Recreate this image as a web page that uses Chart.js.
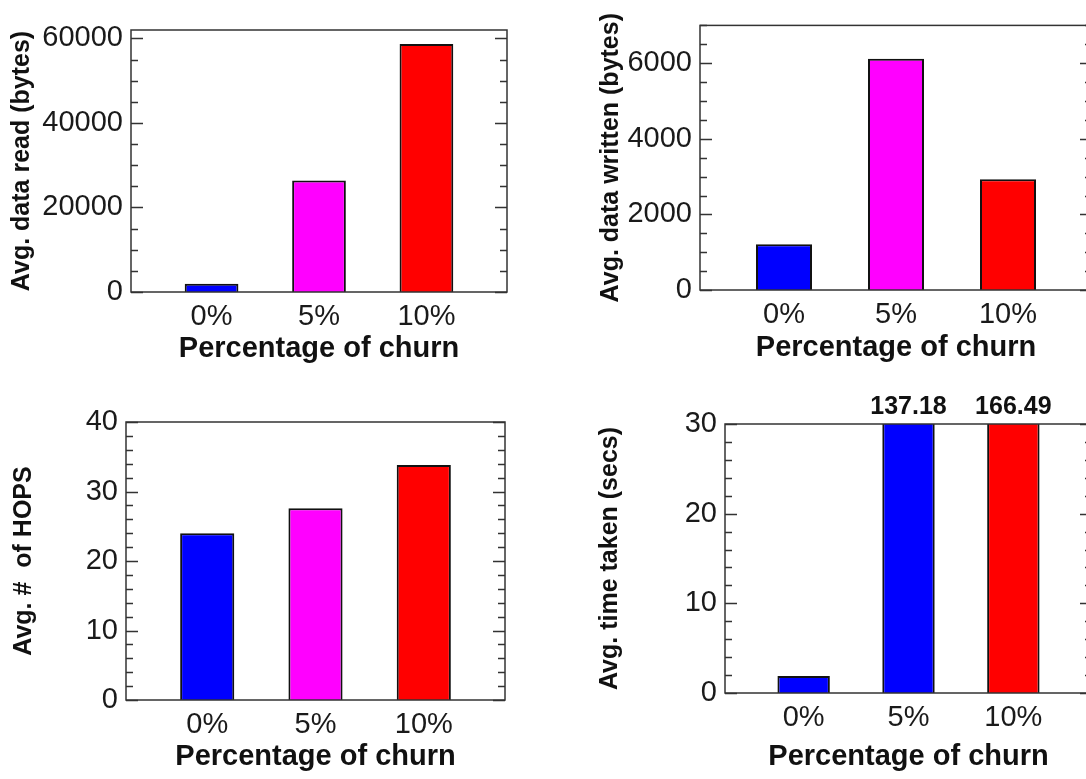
<!DOCTYPE html>
<html>
<head>
<meta charset="utf-8">
<script src="https://cdn.jsdelivr.net/npm/chart.js@4.4.1/dist/chart.umd.min.js"></script>
<style>
    html, body { margin: 0; padding: 0; background: #fff; overflow: hidden; width: 1086px; height: 779px; }
    canvas { position: absolute; }
</style>
</head>
<body>
<canvas id="readChart" width="543" height="390" style="left:0;top:0"></canvas>
<canvas id="writtenChart" width="557" height="390" style="left:543px;top:0"></canvas>
<canvas id="hopsChart" width="543" height="389" style="left:0;top:390px"></canvas>
<canvas id="timeChart" width="557" height="389" style="left:543px;top:390px"></canvas>
<script>
const churnLabels = ['0%', '5%', '10%'];

const dataRead = [1950, 26400, 58700];
const dataWritten = [1210, 6120, 2930];
const hopsCount = [24.0, 27.6, 33.8];
const timeTaken = [1.9, 137.18, 166.49];

const readTicks = [0, 20000, 40000, 60000];
const writtenTicks = [0, 2000, 4000, 6000];
const hopsTicks = [0, 10, 20, 30, 40];
const timeTicks = [0, 10, 20, 30];

const colorsRead = ['#0000ff', '#ff00ff', '#ff0000'];
const colorsTime = ['#0000ff', '#0000ff', '#ff0000'];

Chart.defaults.font.family = "'Liberation Sans', Arial, sans-serif";

// box round the plot + tick marks pointing inwards on both sides
const boxTicks = {
    id: 'boxTicks',
    afterDraw(chart, args, opts) {
        const { ctx, chartArea: a } = chart;
        const y = chart.scales.y;
        ctx.save();
        ctx.strokeStyle = '#333';
        ctx.lineWidth = 1.5;
        for (let v = y.min; v <= y.max + 1e-9; v += opts.minor) {
            const py = Math.round(y.getPixelForValue(v)) + 0.5;
            const len = Math.abs(v % opts.major) < 1e-9 ? 12 : 7;
            ctx.beginPath();
            ctx.moveTo(a.left, py); ctx.lineTo(a.left + len, py);
            ctx.moveTo(a.right, py); ctx.lineTo(a.right - len, py);
            ctx.stroke();
        }
        ctx.strokeRect(a.left, a.top, a.right - a.left, a.bottom - a.top);
        ctx.restore();
    }
};

// value written above bars that run off the top of the axis
const overflowLabels = {
    id: 'overflowLabels',
    afterDraw(chart) {
        const { ctx, chartArea } = chart;
        const y = chart.scales.y;
        const meta = chart.getDatasetMeta(0);
        const ds = chart.data.datasets[0];
        ctx.save();
        ctx.font = "bold 25px 'Liberation Sans', Arial, sans-serif";
        ctx.fillStyle = '#111';
        ctx.textAlign = 'center';
        ctx.textBaseline = 'middle';
        meta.data.forEach((bar, i) => {
            const v = ds.data[i].y;
            if (v > y.max) ctx.fillText(v.toFixed(2), bar.x, chartArea.top - 17);
        });
        ctx.restore();
    }
};

function makePanel(id, values, colors, yTicks, yMax, minor, major, yTitle, lay, extra) {
    new Chart(document.getElementById(id), {
        type: 'bar',
        data: {
            datasets: [{
                data: churnLabels.map((l, i) => ({ x: i, y: values[i] })),
                backgroundColor: colors,
                borderColor: '#111',
                borderWidth: 2,
                barPercentage: 0.5,
                categoryPercentage: 1,
                clip: 0
            }]
        },
        options: {
            responsive: false,
            animation: false,
            events: [],
            layout: { padding: { left: 0, top: lay.top, right: lay.right, bottom: 0 } },
            plugins: {
                legend: { display: false },
                tooltip: { enabled: false },
                boxTicks: { minor: minor, major: major }
            },
            scales: {
                x: {
                    type: 'linear', min: -0.75, max: 2.75, offset: false,
                    grid: { display: false, drawTicks: false },
                    border: { display: false },
                    afterBuildTicks: s => { s.ticks = churnLabels.map((l, i) => ({ value: i })); },
                    ticks: { callback: v => churnLabels[v], font: { size: 29 }, color: '#1a1a1a', padding: 8, maxRotation: 0, autoSkip: false },
                    title: { display: true, text: 'Percentage of churn', font: { size: 29, weight: 'bold' }, color: '#111', padding: { top: 0, bottom: lay.xTitlePad } },
                    afterFit: s => { s.height = lay.xHeight; }
                },
                y: {
                    min: 0, max: yMax,
                    grid: { display: false, drawTicks: false },
                    border: { display: false },
                    afterBuildTicks: s => { s.ticks = yTicks.map(v => ({ value: v })); },
                    ticks: { callback: v => String(v), font: { size: 29 }, color: '#1a1a1a', padding: 8 },
                    title: { display: true, text: yTitle, font: { size: 25, weight: 'bold' }, color: '#111', padding: { top: lay.yTitlePad, bottom: 0 } },
                    afterFit: s => { s.width = lay.yWidth; }
                }
            }
        },
        plugins: extra ? [boxTicks, extra] : [boxTicks]
    });
}

makePanel('readChart', dataRead, colorsRead, readTicks, 62000, 5000, 20000, 'Avg. data read (bytes)',
    { top: 30, right: 36, yWidth: 131, xHeight: 98, yTitlePad: 7, xTitlePad: 24 });
makePanel('writtenChart', dataWritten, colorsRead, writtenTicks, 7000, 500, 2000, 'Avg. data written (bytes)',
    { top: 22, right: 8, yWidth: 157, xHeight: 100, yTitlePad: 53, xTitlePad: 25 });
makePanel('hopsChart', hopsCount, colorsRead, hopsTicks, 40, 2, 10, 'Avg. #  of HOPS',
    { top: 32, right: 38, yWidth: 126, xHeight: 79, yTitlePad: 9, xTitlePad: 5 });
makePanel('timeChart', timeTaken, colorsTime, timeTicks, 30, 2, 10, 'Avg. time taken (secs)',
    { top: 34, right: 8, yWidth: 182, xHeight: 86, yTitlePad: 52, xTitlePad: 5 }, overflowLabels);
</script>
</body>
</html>
